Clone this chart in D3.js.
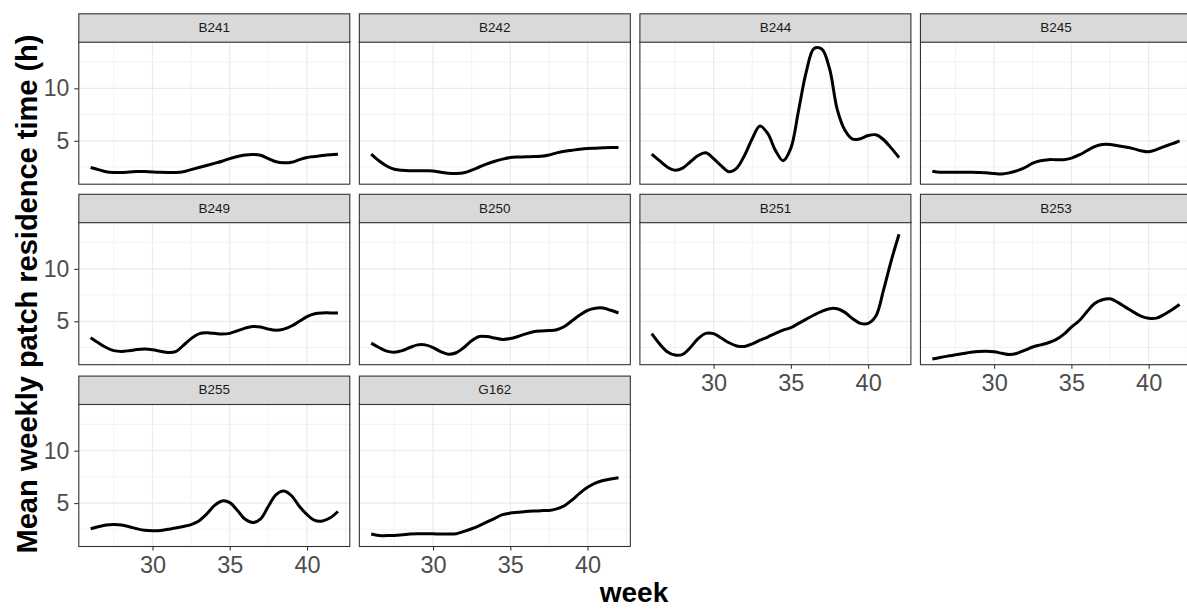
<!DOCTYPE html>
<html>
<head>
<meta charset="utf-8">
<script src="https://cdn.jsdelivr.net/npm/d3@7"></script>
<style>
html,body{margin:0;padding:0;background:#fff;overflow:hidden}
svg{display:block}
</style>
</head>
<body>
<svg id="chart" width="1187" height="609"></svg>
<script>
// ---- data ----
const weeks = [26,26.5,27,27.5,28,28.5,29,29.5,30,30.5,31,31.5,32,32.5,33,33.5,34,34.5,35,35.5,36,36.5,37,37.5,38,38.5,39,39.5,40,40.5,41,41.5,42];
const panelNames = ["B241","B242","B244","B245","B249","B250","B251","B253","B255","G162"];
const b241 = [2.45,2.25,2.05,1.98,1.97,2.02,2.08,2.06,2.02,1.99,1.98,1.98,2.05,2.25,2.45,2.65,2.85,3.05,3.3,3.5,3.65,3.7,3.62,3.3,3.0,2.9,2.95,3.2,3.4,3.5,3.6,3.68,3.72];
const b242 = [3.73,3.1,2.6,2.28,2.18,2.15,2.15,2.14,2.12,2.0,1.9,1.88,1.95,2.2,2.5,2.8,3.05,3.25,3.4,3.45,3.47,3.5,3.52,3.65,3.85,4.0,4.1,4.2,4.27,4.3,4.33,4.35,4.37];
const b244 = [3.73,3.1,2.5,2.2,2.4,3.0,3.6,3.85,3.3,2.6,2.05,2.4,3.6,5.2,6.4,5.7,4.1,3.1,4.3,7.9,11.6,13.8,13.75,11.9,8.0,6.0,5.15,5.2,5.5,5.57,5.1,4.3,3.4];
const b245 = [2.1,2.0,2.0,2.0,2.0,2.0,1.98,1.95,1.88,1.83,1.95,2.15,2.45,2.88,3.1,3.2,3.2,3.2,3.35,3.65,4.05,4.45,4.65,4.65,4.52,4.4,4.25,4.05,3.95,4.15,4.45,4.7,5.0];
const b249 = [3.44,2.95,2.5,2.2,2.13,2.2,2.3,2.35,2.28,2.15,2.02,2.1,2.7,3.35,3.8,3.9,3.85,3.78,3.85,4.1,4.35,4.5,4.45,4.25,4.14,4.25,4.55,5.0,5.45,5.72,5.8,5.8,5.8];
const b250 = [2.92,2.5,2.15,2.05,2.2,2.5,2.75,2.75,2.5,2.1,1.85,2.0,2.5,3.15,3.55,3.55,3.4,3.27,3.35,3.55,3.8,4.0,4.08,4.12,4.2,4.5,5.05,5.6,6.05,6.25,6.27,6.05,5.79];
const b251 = [3.82,2.85,2.1,1.78,1.85,2.5,3.35,3.85,3.82,3.4,2.95,2.65,2.6,2.85,3.2,3.5,3.85,4.15,4.4,4.8,5.2,5.6,5.95,6.2,6.2,5.85,5.25,4.8,4.8,5.5,8.0,10.8,13.3];
const b253 = [1.4,1.55,1.68,1.8,1.93,2.05,2.13,2.15,2.1,1.95,1.83,1.95,2.25,2.55,2.75,2.95,3.25,3.75,4.45,5.05,5.9,6.7,7.05,7.15,6.8,6.35,5.9,5.5,5.28,5.3,5.65,6.1,6.6];
const b255 = [2.55,2.75,2.92,2.95,2.92,2.75,2.55,2.4,2.36,2.38,2.5,2.62,2.77,2.95,3.3,3.95,4.75,5.2,5.05,4.3,3.45,3.15,3.5,4.7,5.8,6.15,5.7,4.7,3.9,3.35,3.3,3.6,4.2];
const g162 = [2.05,1.9,1.9,1.92,1.98,2.05,2.08,2.08,2.07,2.05,2.05,2.08,2.3,2.55,2.85,3.2,3.55,3.9,4.05,4.12,4.2,4.25,4.28,4.3,4.45,4.75,5.3,5.95,6.5,6.9,7.15,7.3,7.42];
const seriesValues = [b241,b242,b244,b245,b249,b250,b251,b253,b255,g162];
const xMajorTicks = [30,35,40];
const xMinorTicks = [27.5,32.5,37.5,42.5];
const yMajorTicks = [5,10];
const yMinorTicks = [2.5,7.5,12.5];
const xTitle = "week";
const yTitle = "Mean weekly patch residence time (h)";

// ---- layout ----
const svg = d3.select("#chart");
const FONT = "Liberation Sans, Arial, sans-serif";
const nCol = 4;
const colLeft = 78.3, colStep = 280.55, panelW = 272;
const rowStripTop = [13.3, 193.8, 375.6];
const stripH = 28.4, panelH = 142.5;

const x = d3.scaleLinear().domain([25.2, 42.8]).range([0, panelW]);
const y = d3.scaleLinear().domain([0.86, 14.45]).range([panelH, 0]);

const line = d3.line()
  .x((d,i) => x(weeks[i]))
  .y(d => y(d))
  .curve(d3.curveCatmullRom.alpha(0.5));

const nPanels = panelNames.length;

panelNames.forEach((name, i) => {
  const r = Math.floor(i / nCol), c = i % nCol;
  const left = colLeft + c * colStep;
  const stripTop = rowStripTop[r];
  const top = stripTop + stripH;
  const g = svg.append("g").attr("transform", `translate(${left},${top})`);

  g.append("rect").attr("width", panelW).attr("height", panelH).attr("fill", "#fff");

  g.selectAll(".gxm").data(xMinorTicks).join("line")
    .attr("x1", d => x(d)).attr("x2", d => x(d)).attr("y1", 0).attr("y2", panelH)
    .attr("stroke", "#EBEBEB").attr("stroke-width", 0.6);
  g.selectAll(".gym").data(yMinorTicks).join("line")
    .attr("x1", 0).attr("x2", panelW).attr("y1", d => y(d)).attr("y2", d => y(d))
    .attr("stroke", "#EBEBEB").attr("stroke-width", 0.6);
  g.selectAll(".gx").data(xMajorTicks).join("line")
    .attr("x1", d => x(d)).attr("x2", d => x(d)).attr("y1", 0).attr("y2", panelH)
    .attr("stroke", "#EBEBEB").attr("stroke-width", 1.2);
  g.selectAll(".gy").data(yMajorTicks).join("line")
    .attr("x1", 0).attr("x2", panelW).attr("y1", d => y(d)).attr("y2", d => y(d))
    .attr("stroke", "#EBEBEB").attr("stroke-width", 1.2);

  g.append("path").datum(seriesValues[i])
    .attr("d", line).attr("fill", "none")
    .attr("stroke", "#000").attr("stroke-width", 3)
    .attr("stroke-linejoin", "round").attr("stroke-linecap", "butt");

  g.append("rect").attr("x", 0.5).attr("y", 0).attr("width", panelW - 1).attr("height", panelH)
    .attr("fill", "none").attr("stroke", "#333333").attr("stroke-width", 1.1);

  const s = svg.append("g").attr("transform", `translate(${left},${stripTop})`);
  s.append("rect").attr("x", 0.5).attr("y", 0.5).attr("width", panelW - 1).attr("height", stripH)
    .attr("fill", "#D9D9D9").attr("stroke", "#333333").attr("stroke-width", 1.1);
  s.append("text").attr("x", panelW / 2).attr("y", stripH / 2 + 1)
    .attr("text-anchor", "middle").attr("dominant-baseline", "middle")
    .attr("font-family", FONT).attr("font-size", 13.5)
    .attr("fill", "#1A1A1A").text(name);

  if (c === 0) {
    const ya = d3.axisLeft(y).tickValues(yMajorTicks).tickSize(4).tickPadding(5);
    const ag = g.append("g").call(ya);
    ag.select(".domain").remove();
    ag.selectAll(".tick line").attr("stroke", "#333333").attr("stroke-width", 1.1);
    ag.selectAll(".tick text").attr("fill", "#4D4D4D")
      .attr("font-family", FONT).attr("font-size", 23);
  }
  if (i + nCol >= nPanels) {
    const xa = d3.axisBottom(x).tickValues(xMajorTicks).tickSize(4).tickPadding(6);
    const ag = g.append("g").attr("transform", `translate(0,${panelH})`).call(xa);
    ag.select(".domain").remove();
    ag.selectAll(".tick line").attr("stroke", "#333333").attr("stroke-width", 1.1);
    ag.selectAll(".tick text").attr("fill", "#4D4D4D")
      .attr("font-family", FONT).attr("font-size", 23.5);
  }
});

svg.append("text").attr("x", 634).attr("y", 602)
  .attr("text-anchor", "middle").attr("font-family", FONT)
  .attr("font-weight", "bold").attr("font-size", 28).attr("fill", "#000").text(xTitle);
svg.append("text").attr("transform", "translate(37,294) rotate(-90)")
  .attr("text-anchor", "middle").attr("font-family", FONT)
  .attr("font-weight", "bold").attr("font-size", 29).attr("fill", "#000").text(yTitle);
</script>
</body>
</html>
